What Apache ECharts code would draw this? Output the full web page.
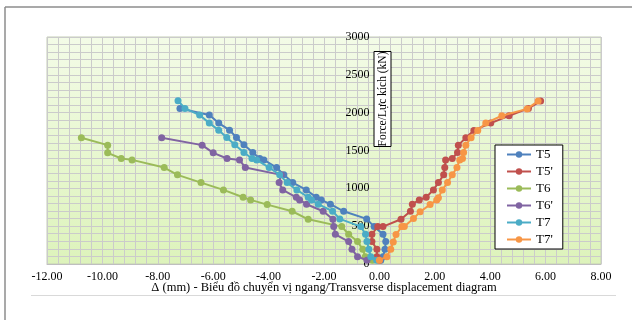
<!DOCTYPE html>
<html>
<head>
<meta charset="utf-8">
<script src="https://cdn.jsdelivr.net/npm/echarts@6/dist/echarts.min.js"></script>
<style>
  html, body { margin: 0; padding: 0; background: #ffffff; }
  #chart { width: 632px; height: 320px; }
</style>
</head>
<body>
<div id="chart"></div>
<script>
// Load–displacement measurements, [displacement (mm), force (kN)]
const seriesNames = ['T5', "T5'", 'T6', "T6'", 'T7', "T7'"];

const T5 = [[0.05,50],[0.13,97],[0.20,194],[0.23,296],[0.13,393],[-0.19,494],[-0.46,596],[-1.29,697],[-1.77,790],[-2.10,847],[-2.28,882],[-2.64,979],[-3.13,1076],[-3.45,1178],[-3.71,1275],[-4.17,1376],[-4.32,1394],[-4.57,1473],[-4.89,1575],[-5.16,1672],[-5.41,1769],[-5.80,1862],[-6.14,1968],[-7.20,2056]];

const T5p = [[0.00,50],[-0.09,97],[-0.09,194],[-0.27,296],[-0.27,393],[-0.06,494],[0.13,494],[0.78,591],[1.12,697],[1.19,790],[1.44,847],[1.69,882],[1.95,979],[2.13,1076],[2.32,1178],[2.36,1275],[2.39,1376],[2.63,1394],[2.82,1473],[2.85,1571],[3.12,1668],[3.41,1765],[4.02,1862],[4.68,1959],[5.38,2056],[5.82,2153]];

const T6 = [[-0.25,50],[-0.51,97],[-0.60,194],[-0.79,296],[-1.11,393],[-1.36,494],[-2.57,591],[-3.15,697],[-4.05,785],[-4.65,847],[-4.92,882],[-5.63,979],[-6.44,1076],[-7.29,1178],[-7.77,1275],[-8.93,1376],[-9.32,1394],[-9.81,1469],[-9.81,1571],[-10.76,1668]];

const T6p = [[-0.45,50],[-0.79,97],[-0.99,194],[-1.11,296],[-1.59,393],[-1.65,494],[-1.68,591],[-2.03,697],[-2.63,790],[-2.88,847],[-3.00,882],[-3.49,979],[-3.62,1076],[-3.55,1178],[-4.84,1275],[-5.05,1376],[-5.50,1394],[-6.00,1469],[-6.40,1571],[-7.86,1668]];

const T7 = [[-0.10,50],[-0.31,97],[-0.38,194],[-0.45,296],[-0.50,393],[-0.67,494],[-1.43,596],[-1.69,697],[-2.21,790],[-2.45,847],[-2.57,882],[-2.98,979],[-3.33,1076],[-3.60,1178],[-3.98,1275],[-4.43,1376],[-4.60,1394],[-4.89,1473],[-5.22,1575],[-5.51,1672],[-5.80,1769],[-6.14,1862],[-6.49,1968],[-7.02,2056],[-7.27,2157]];

const T7p = [[0.00,50],[0.27,97],[0.41,195],[0.50,290],[0.60,390],[0.81,494],[0.90,494],[1.23,600],[1.47,690],[1.83,785],[2.07,847],[2.13,875],[2.27,979],[2.46,1076],[2.63,1178],[2.80,1275],[2.90,1376],[3.00,1394],[3.04,1473],[3.12,1571],[3.31,1668],[3.55,1765],[3.84,1862],[4.42,1959],[5.33,2050],[5.73,2155]];

const seriesData = [T5, T5p, T6, T6p, T7, T7p];
const seriesColors = ['#4F81BD', '#C0504D', '#9BBB59', '#8064A2', '#4BACC6', '#F79646'];

const xAxisTitle = 'Δ (mm) - Biểu đồ chuyển vị ngang/Transverse displacement diagram';
const yAxisTitle = 'Force/Lực kích (kN)';

const serif = '"Liberation Serif", "Times New Roman", serif';
const gridColor = '#cbcbcb';

// plot box in pixels; the vertical axis sits where displacement is zero
const plotLeft = 47, plotRight = 31, plotTop = 37, plotBottom = 56;
const xMin = -12, xMax = 8;
const plotWidth = 632 - plotLeft - plotRight;
const yAxisShift = plotWidth * (0 - xMin) / (xMax - xMin);

const chart = echarts.init(document.getElementById('chart'), null, { renderer: 'canvas' });

chart.setOption({
  backgroundColor: '#ffffff',
  animation: false,
  textStyle: { fontFamily: serif },
  grid: {
    left: plotLeft, right: plotRight, top: plotTop, bottom: plotBottom,
    show: true,
    borderColor: '#c5ceb5',
    borderWidth: 1,
    backgroundColor: {
      type: 'linear', x: 0, y: 0, x2: 0, y2: 1,
      colorStops: [
        { offset: 0, color: '#f3fbe7' },
        { offset: 1, color: '#ddf3bb' }
      ]
    }
  },
  xAxis: {
    type: 'value',
    min: xMin, max: xMax, interval: 2,
    name: xAxisTitle,
    nameLocation: 'middle',
    nameGap: 17,
    nameMoveOverlap: false,
    nameTextStyle: { fontFamily: serif, fontSize: 12.5, color: '#000' },
    axisLine: { onZero: false, lineStyle: { color: '#bfbfbf', width: 1 } },
    axisTick: { show: false },
    axisLabel: {
      fontFamily: serif, fontSize: 12, color: '#000', margin: 7,
      formatter: v => v.toFixed(2)
    },
    splitLine: { show: true, lineStyle: { color: gridColor, width: 1 } },
    minorTick: { show: false, splitNumber: 5 },
    minorSplitLine: { show: true, lineStyle: { color: gridColor, width: 1 } }
  },
  yAxis: {
    type: 'value',
    position: 'left',
    offset: -yAxisShift,
    min: 0, max: 3000, interval: 500,
    axisLine: { show: true, onZero: false, lineStyle: { color: gridColor, width: 1 } },
    axisTick: { show: false },
    axisLabel: { fontFamily: serif, fontSize: 12, color: '#000', margin: 10, formatter: v => String(v) },
    splitLine: { show: true, lineStyle: { color: gridColor, width: 1 } },
    minorTick: { show: false, splitNumber: 5 },
    minorSplitLine: { show: true, lineStyle: { color: gridColor, width: 1 } }
  },
  legend: {
    orient: 'vertical',
    left: 495, top: 145,
    padding: [3, 10, 3, 11],
    itemGap: 4,
    itemWidth: 24, itemHeight: 8,
    backgroundColor: '#ffffff',
    borderColor: '#000000',
    borderWidth: 1,
    textStyle: { fontFamily: serif, fontSize: 13, color: '#000' },
    data: seriesNames
  },
  series: seriesNames.map((name, i) => ({
    name: name,
    type: 'line',
    data: seriesData[i],
    color: seriesColors[i],
    symbol: 'circle',
    symbolSize: 7,
    lineStyle: { width: 2 },
    itemStyle: { color: seriesColors[i] },
    z: 2 + i
  })),
  graphic: [
    // outer frame edges and separator rule
    { type: 'line', z: 100, shape: { x1: 5, y1: 7, x2: 632, y2: 7 }, style: { stroke: '#8c8c8c', lineWidth: 1.5 }, silent: true },
    { type: 'line', z: 100, shape: { x1: 5, y1: 7, x2: 5, y2: 320 }, style: { stroke: '#8c8c8c', lineWidth: 1.5 }, silent: true },
    { type: 'line', z: 100, shape: { x1: 31, y1: 295.5, x2: 616, y2: 295.5 }, style: { stroke: '#d9d9d9', lineWidth: 1 }, silent: true },
    // boxed vertical axis title
    {
      type: 'rect', z: 100,
      shape: { x: 374, y: 51.5, width: 17, height: 95 },
      style: { fill: '#ffffff', stroke: '#000000', lineWidth: 1 }
    },
    {
      type: 'text', z: 101,
      x: 383, y: 99,
      rotation: Math.PI / 2,
      style: {
        text: yAxisTitle,
        x: 0, y: 0,
        align: 'center', verticalAlign: 'middle',
        font: '11.5px ' + serif,
        fill: '#000'
      }
    }
  ]
});
</script>
</body>
</html>
